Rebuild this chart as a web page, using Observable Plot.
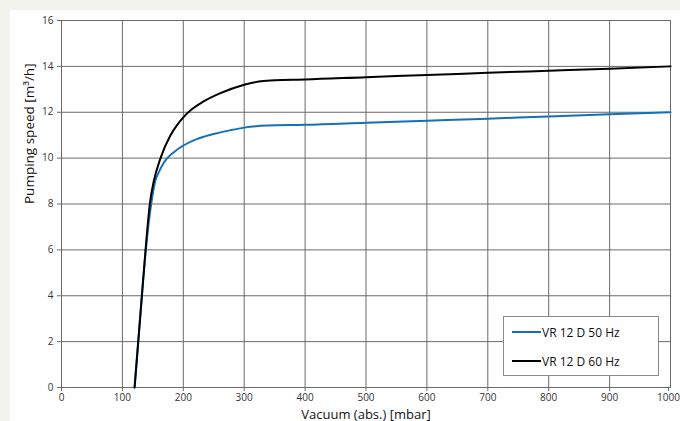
<!DOCTYPE html>
<html>
<head>
<meta charset="utf-8">
<script src="https://cdn.jsdelivr.net/npm/d3@7"></script>
<script src="https://cdn.jsdelivr.net/npm/@observablehq/plot@0.6"></script>
<style>
  html, body { margin: 0; padding: 0; background: #f3f3ed; width: 680px; height: 421px; overflow: hidden; }
  #panel { position: absolute; left: 10px; top: 10px; width: 670px; height: 411px; background: #fff; }
  #legend { position: absolute; left: 493px; top: 306px; width: 154px; height: 58px; border: 1px solid #8a8a8a; background: #fff; font-family: "Open Sans", sans-serif; font-size: 12px; color: #111; }
  .item { position: absolute; left: 8px; height: 14px; display: flex; align-items: center; }
  .sw { width: 29px; height: 2px; margin-right: 1px; }
</style>
</head>
<body>
<div id="panel"></div>
<script>
const vacuum50 = [120,126,132,138.5,147,154,160,168,184,200,223,250,278,300,338,400,500,600,700,800,900,1000];
const speed50  = [0,2,4,6,7.95,9.0,9.4,9.8,10.25,10.55,10.84,11.05,11.22,11.33,11.42,11.45,11.54,11.63,11.72,11.82,11.91,12.0];
const vacuum60 = [120,126,132,138,145,151.6,162.6,179,190,200,215,230,260,300,327,350,400,500,600,700,800,900,1000];
const speed60  = [0,2,4,6,8,9.0,10.0,11.0,11.45,11.78,12.15,12.42,12.82,13.2,13.35,13.4,13.43,13.53,13.62,13.72,13.81,13.9,14.0];
const seriesNames = ["VR 12 D 50 Hz", "VR 12 D 60 Hz"];
const seriesColors = ["#1470b8", "#000000"];
const xTicks = [0,100,200,300,400,500,600,700,800,900,1000];
const yTicks = [0,2,4,6,8,10,12,14,16];

const d50 = vacuum50.map((x, i) => ({x, y: speed50[i], s: seriesNames[0]}));
const d60 = vacuum60.map((x, i) => ({x, y: speed60[i], s: seriesNames[1]}));

const lastX = xTicks[xTicks.length - 1];
const chart = Plot.plot({
  width: 670,
  height: 411,
  marginLeft: 51,
  marginRight: 10,
  marginTop: 10,
  marginBottom: 34,
  style: {fontFamily: "Open Sans, sans-serif", fontSize: "10px", color: "#333", background: "#fff", overflow: "visible"},
  x: {domain: [0, 1000], label: null},
  y: {domain: [0, 16], label: null},
  color: {domain: seriesNames, range: seriesColors},
  marks: [
    Plot.gridX(xTicks, {stroke: "#6a6a6a", strokeOpacity: 1, strokeWidth: 1}),
    Plot.gridY(yTicks, {stroke: "#6a6a6a", strokeOpacity: 1, strokeWidth: 1}),
    Plot.frame({stroke: "#6a6a6a"}),
    Plot.axisX({ticks: xTicks.slice(0, -1), tickFormat: d3.format("d"), tickSize: 4, tickPadding: 2, stroke: "#6a6a6a", fill: "#333", fontSize: 10, label: null}),
    Plot.axisX({ticks: [lastX], tickFormat: d3.format("d"), tickSize: 4, tickPadding: 2, dx: -2, stroke: "#6a6a6a", fill: "#333", fontSize: 10, label: null}),
    Plot.axisY({ticks: yTicks, tickFormat: d3.format("d"), tickSize: 4, tickPadding: 4, stroke: "#6a6a6a", fill: "#333", fontSize: 10, label: null}),
    Plot.line(d50, {x: "x", y: "y", stroke: "s", strokeWidth: 2, curve: "monotone-x"}),
    Plot.line(d60, {x: "x", y: "y", stroke: "s", strokeWidth: 2, curve: "monotone-x"}),
    Plot.text(["Vacuum (abs.) [mbar]"], {frameAnchor: "bottom", dy: 31, fontSize: 13, fill: "#111", fontWeight: 500}),
    Plot.text(["Pumping speed [m³/h]"], {frameAnchor: "left", dx: -32, rotate: -90, fontSize: 13.5, fill: "#111", fontWeight: 500})
  ]
});
const panel = document.getElementById("panel");
panel.appendChild(chart);

const legend = document.createElement("div");
legend.id = "legend";
seriesNames.forEach((name, i) => {
  const it = document.createElement("div");
  it.className = "item";
  it.style.top = (i === 0 ? 8 : 37) + "px";
  const sw = document.createElement("span");
  sw.className = "sw";
  sw.style.background = seriesColors[i];
  it.appendChild(sw);
  it.appendChild(document.createTextNode(name));
  legend.appendChild(it);
});
panel.appendChild(legend);
</script>
</body>
</html>
